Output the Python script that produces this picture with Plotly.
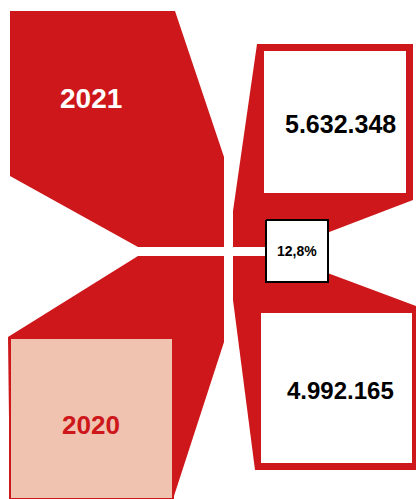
import plotly.graph_objects as go

# datos
years = ["2021", "2020"]
totals = [5632348, 4992165]

RED = "#CD171A"
PINK = "#F0C2B0"

# geometria del dibujo en pixeles (lienzo 416x499)
upper_left = [(10, 11), (175, 11), (224, 157), (224, 247), (138, 247), (10, 176)]
lower_left = [(138, 256), (224, 256), (224, 342), (173, 499), (10, 499), (8, 337)]
upper_right = [(257, 44), (413, 44), (413, 200), (290, 247), (233, 247), (233, 211)]
lower_right = [(233, 256), (282, 256), (416, 306), (416, 470), (255, 470), (233, 300)]
box_2021 = (264, 406, 51, 193)
box_2020 = (261, 412, 313, 463)
box_pink = (10, 173, 338, 499)
box_pct = (266, 328, 220, 282)


def fmt(v):
    return f"{v:,}".replace(",", ".")


def poly(pts, fill, line_color=None, line_width=0):
    xs = [p[0] for p in pts] + [pts[0][0]]
    ys = [p[1] for p in pts] + [pts[0][1]]
    return go.Scatter(x=xs, y=ys, mode="lines", fill="toself", fillcolor=fill,
                      line=dict(color=line_color or fill, width=line_width),
                      hoverinfo="skip", showlegend=False)


def rect(b, fill, line_color=None, line_width=0):
    x0, x1, y0, y1 = b
    return poly([(x0, y0), (x1, y0), (x1, y1), (x0, y1)], fill, line_color, line_width)


fig = go.Figure()
for shape in (upper_left, lower_left, upper_right, lower_right):
    fig.add_trace(poly(shape, RED))
fig.add_trace(rect(box_2021, "white"))
fig.add_trace(rect(box_2020, "white"))
fig.add_trace(rect(box_pink, PINK, RED, 2))
fig.add_trace(rect(box_pct, "white", "black", 2))

pct = (totals[0] / totals[1] - 1) * 100
pct_txt = f"{pct:.1f}%".replace(".", ",")

font = "Liberation Sans, Arial, sans-serif"
labels = [
    (91, 98, f"<b>{years[0]}</b>", 28, "white"),
    (91, 425, f"<b>{years[1]}</b>", 26, RED),
    (340, 124, f"<b>{fmt(totals[0])}</b>", 25, "black"),
    (340, 390, f"<b>{fmt(totals[1])}</b>", 24, "black"),
    (297, 251, f"<b>{pct_txt}</b>", 14, "black"),
]
for x, y, t, s, c in labels:
    fig.add_annotation(x=x, y=y, text=t, showarrow=False, xanchor="center", yanchor="middle",
                       font=dict(family=font, size=s, color=c))

fig.update_layout(
    width=416, height=499,
    margin=dict(l=0, r=0, t=0, b=0),
    paper_bgcolor="white", plot_bgcolor="white",
    xaxis=dict(range=[0, 416], visible=False, fixedrange=True),
    yaxis=dict(range=[499, 0], visible=False, fixedrange=True),
)
fig.write_html("out.html", config={"displayModeBar": False},
               post_script="document.body.style.margin='0';document.body.style.overflow='hidden';")
